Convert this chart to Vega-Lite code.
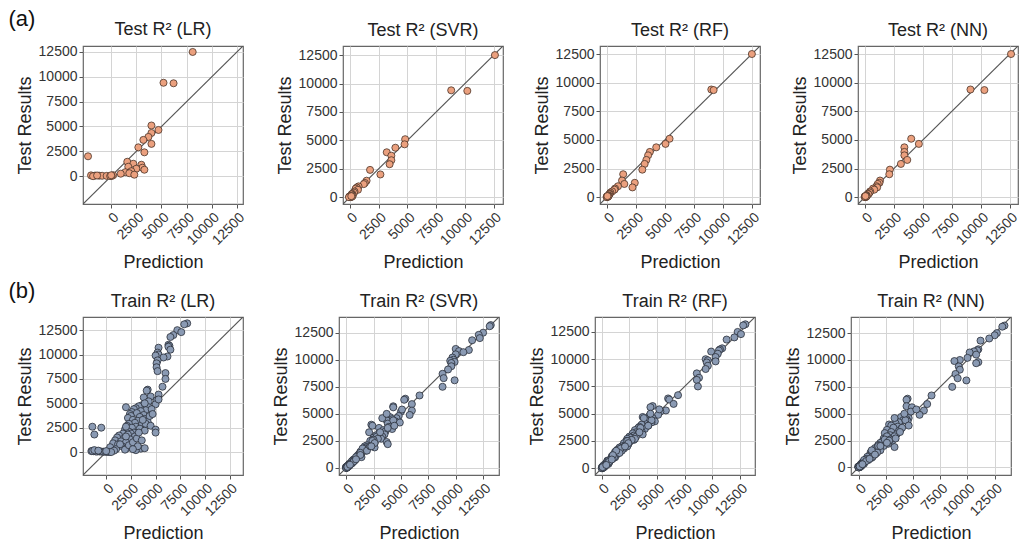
{
"$schema": "https://vega.github.io/schema/vega-lite/v6.json",
"padding": {"left": 8, "top": 8, "right": 2, "bottom": 2},
"background": "white",
"datasets": {
"diag": [{"d": -5000}, {"d": 16000}],
"test": [
{"actual":12500,"LR":8100,"SVR":12600,"RF":12500,"NN":12600},
{"actual":9400,"LR":5200,"SVR":8800,"RF":9000,"NN":9100},
{"actual":9350,"LR":6200,"SVR":10200,"RF":9200,"NN":10300},
{"actual":5100,"LR":4000,"SVR":4800,"RF":5400,"NN":3990},
{"actual":4650,"LR":4700,"SVR":4750,"RF":5050,"NN":4650},
{"actual":4350,"LR":4000,"SVR":3950,"RF":4250,"NN":3400},
{"actual":3950,"LR":3700,"SVR":3200,"RF":3700,"NN":3400},
{"actual":3650,"LR":3200,"SVR":3600,"RF":3550,"NN":3400},
{"actual":3250,"LR":4000,"SVR":3600,"RF":3400,"NN":3650},
{"actual":2900,"LR":2700,"SVR":3450,"RF":3250,"NN":3100},
{"actual":2400,"LR":3300,"SVR":1750,"RF":3050,"NN":2150},
{"actual":2000,"LR":-2300,"SVR":2650,"RF":1400,"NN":2100},
{"actual":1450,"LR":1600,"SVR":1450,"RF":1300,"NN":1300},
{"actual":1250,"LR":2200,"SVR":1300,"RF":2400,"NN":1250},
{"actual":1150,"LR":3000,"SVR":1200,"RF":1500,"NN":1100},
{"actual":950,"LR":1700,"SVR":750,"RF":950,"NN":1000},
{"actual":850,"LR":3100,"SVR":600,"RF":2200,"NN":1050},
{"actual":750,"LR":2500,"SVR":500,"RF":700,"NN":700},
{"actual":650,"LR":3300,"SVR":700,"RF":650,"NN":800},
{"actual":500,"LR":2000,"SVR":400,"RF":450,"NN":450},
{"actual":400,"LR":1400,"SVR":350,"RF":300,"NN":400},
{"actual":300,"LR":1800,"SVR":200,"RF":250,"NN":250},
{"actual":250,"LR":950,"SVR":150,"RF":200,"NN":300},
{"actual":150,"LR":2300,"SVR":250,"RF":150,"NN":150},
{"actual":100,"LR":200,"SVR":100,"RF":100,"NN":100},
{"actual":80,"LR":-2000,"SVR":0,"RF":50,"NN":0},
{"actual":60,"LR":-1600,"SVR":50,"RF":0,"NN":50},
{"actual":50,"LR":-1200,"SVR":-50,"RF":80,"NN":120},
{"actual":40,"LR":-900,"SVR":100,"RF":30,"NN":80},
{"actual":30,"LR":-450,"SVR":150,"RF":60,"NN":20},
{"actual":20,"LR":50,"SVR":0,"RF":10,"NN":-30},
{"actual":10,"LR":-100,"SVR":50,"RF":-30,"NN":60},
{"actual":0,"LR":-1800,"SVR":-80,"RF":0,"NN":10},
{"actual":70,"LR":-1400,"SVR":200,"RF":120,"NN":130},
{"actual":90,"LR":0,"SVR":120,"RF":40,"NN":40}
],
"train": [
{"actual":13200,"LR":8200,"SVR":13200,"RF":13000,"NN":13400},
{"actual":13100,"LR":7900,"SVR":13100,"RF":12800,"NN":13200},
{"actual":12500,"LR":7200,"SVR":12500,"RF":12300,"NN":12700},
{"actual":12300,"LR":7600,"SVR":12100,"RF":12600,"NN":12500},
{"actual":12000,"LR":6800,"SVR":12200,"RF":12000,"NN":12000},
{"actual":11800,"LR":6500,"SVR":11500,"RF":11300,"NN":11200},
{"actual":11000,"LR":6300,"SVR":10000,"RF":10900,"NN":11000},
{"actual":10900,"LR":6400,"SVR":11200,"RF":10700,"NN":10900},
{"actual":10800,"LR":6300,"SVR":10300,"RF":10600,"NN":10600},
{"actual":10700,"LR":5300,"SVR":10700,"RF":9900,"NN":10200},
{"actual":10500,"LR":6500,"SVR":10000,"RF":10500,"NN":10800},
{"actual":10200,"LR":5200,"SVR":9700,"RF":10300,"NN":10000},
{"actual":10000,"LR":5300,"SVR":9800,"RF":9400,"NN":9300},
{"actual":9900,"LR":5000,"SVR":9500,"RF":9600,"NN":8800},
{"actual":9800,"LR":6200,"SVR":9900,"RF":10300,"NN":11000},
{"actual":9700,"LR":5800,"SVR":9600,"RF":9500,"NN":10800},
{"actual":9400,"LR":5200,"SVR":9600,"RF":9600,"NN":9200},
{"actual":9100,"LR":5100,"SVR":9300,"RF":9400,"NN":9300},
{"actual":8700,"LR":5100,"SVR":8800,"RF":8600,"NN":8900},
{"actual":8300,"LR":5200,"SVR":8900,"RF":8800,"NN":9100},
{"actual":8100,"LR":6000,"SVR":9900,"RF":8600,"NN":9900},
{"actual":7500,"LR":6000,"SVR":8800,"RF":8700,"NN":8600},
{"actual":6700,"LR":5700,"SVR":6700,"RF":6900,"NN":6700},
{"actual":6400,"LR":4200,"SVR":5400,"RF":6000,"NN":4500},
{"actual":6300,"LR":4100,"SVR":5300,"RF":6100,"NN":4400},
{"actual":5900,"LR":5300,"SVR":6000,"RF":6500,"NN":6300},
{"actual":5700,"LR":4500,"SVR":4300,"RF":4600,"NN":4400},
{"actual":5600,"LR":3800,"SVR":4300,"RF":4400,"NN":4900},
{"actual":5300,"LR":5100,"SVR":6000,"RF":5800,"NN":6000},
{"actual":5200,"LR":4300,"SVR":5000,"RF":5300,"NN":4800},
{"actual":4900,"LR":5000,"SVR":5800,"RF":5100,"NN":5600},
{"actual":4800,"LR":3600,"SVR":4800,"RF":4300,"NN":4200},
{"actual":4700,"LR":3300,"SVR":4000,"RF":3700,"NN":3900},
{"actual":4600,"LR":4300,"SVR":4600,"RF":4600,"NN":4600},
{"actual":4500,"LR":3000,"SVR":4200,"RF":4200,"NN":4400},
{"actual":4400,"LR":2800,"SVR":3700,"RF":4000,"NN":4100},
{"actual":4300,"LR":4000,"SVR":4500,"RF":4800,"NN":4500},
{"actual":4200,"LR":3500,"SVR":4900,"RF":4500,"NN":3700},
{"actual":4100,"LR":2600,"SVR":3800,"RF":3900,"NN":3400},
{"actual":4000,"LR":3100,"SVR":2300,"RF":3600,"NN":2800},
{"actual":3900,"LR":2400,"SVR":2400,"RF":4200,"NN":3000},
{"actual":3800,"LR":3800,"SVR":3900,"RF":3400,"NN":3600},
{"actual":3700,"LR":2500,"SVR":3000,"RF":3300,"NN":3200},
{"actual":3600,"LR":3400,"SVR":4200,"RF":3900,"NN":3900},
{"actual":3500,"LR":2200,"SVR":3400,"RF":3000,"NN":2600},
{"actual":3400,"LR":3900,"SVR":3600,"RF":3600,"NN":3700},
{"actual":3300,"LR":2700,"SVR":2100,"RF":3100,"NN":3000},
{"actual":3200,"LR":3200,"SVR":3000,"RF":2800,"NN":2400},
{"actual":3100,"LR":4200,"SVR":3500,"RF":3700,"NN":3500},
{"actual":3000,"LR":2900,"SVR":2700,"RF":2900,"NN":2900},
{"actual":2900,"LR":2300,"SVR":3300,"RF":2500,"NN":3300},
{"actual":2800,"LR":3600,"SVR":2500,"RF":2600,"NN":2700},
{"actual":2700,"LR":2100,"SVR":3200,"RF":2300,"NN":2300},
{"actual":2600,"LR":3000,"SVR":2400,"RF":2700,"NN":2500},
{"actual":2500,"LR":2600,"SVR":2200,"RF":2200,"NN":3100},
{"actual":2400,"LR":3400,"SVR":3700,"RF":2500,"NN":2200},
{"actual":2300,"LR":1900,"SVR":2600,"RF":2000,"NN":2000},
{"actual":2200,"LR":3900,"SVR":3800,"RF":2400,"NN":2700},
{"actual":2100,"LR":2300,"SVR":1900,"RF":2100,"NN":1800},
{"actual":2000,"LR":2800,"SVR":1700,"RF":1800,"NN":2300},
{"actual":4600,"LR":2000,"SVR":3300,"RF":3800,"NN":3300},
{"actual":3700,"LR":4400,"SVR":3800,"RF":3500,"NN":4000},
{"actual":2900,"LR":4000,"SVR":2800,"RF":3100,"NN":2600},
{"actual":4400,"LR":4600,"SVR":4300,"RF":4500,"NN":4300},
{"actual":3300,"LR":3700,"SVR":3100,"RF":3400,"NN":3800},
{"actual":3900,"LR":4700,"SVR":4400,"RF":4200,"NN":4600},
{"actual":2600,"LR":2000,"SVR":2500,"RF":2900,"NN":2900},
{"actual":5000,"LR":3900,"SVR":3700,"RF":4400,"NN":4200},
{"actual":1900,"LR":2500,"SVR":2600,"RF":1900,"NN":3300},
{"actual":2700,"LR":4500,"SVR":2900,"RF":3000,"NN":3400},
{"actual":1900,"LR":1700,"SVR":1800,"RF":1600,"NN":1700},
{"actual":1800,"LR":2200,"SVR":1700,"RF":2000,"NN":1500},
{"actual":1700,"LR":1300,"SVR":1500,"RF":1400,"NN":1900},
{"actual":1600,"LR":2900,"SVR":1800,"RF":1800,"NN":2000},
{"actual":1500,"LR":1100,"SVR":1300,"RF":1200,"NN":1300},
{"actual":1400,"LR":1800,"SVR":1400,"RF":1500,"NN":1100},
{"actual":1300,"LR":2400,"SVR":1200,"RF":1100,"NN":1600},
{"actual":1200,"LR":900,"SVR":1100,"RF":1300,"NN":1400},
{"actual":1100,"LR":1500,"SVR":1000,"RF":900,"NN":1000},
{"actual":1000,"LR":2000,"SVR":1400,"RF":1200,"NN":800},
{"actual":900,"LR":700,"SVR":900,"RF":1000,"NN":1200},
{"actual":800,"LR":1200,"SVR":700,"RF":800,"NN":700},
{"actual":700,"LR":2600,"SVR":600,"RF":500,"NN":900},
{"actual":600,"LR":1600,"SVR":500,"RF":700,"NN":600},
{"actual":500,"LR":400,"SVR":600,"RF":400,"NN":400},
{"actual":400,"LR":2100,"SVR":300,"RF":600,"NN":300},
{"actual":350,"LR":3500,"SVR":400,"RF":300,"NN":500},
{"actual":300,"LR":1000,"SVR":250,"RF":200,"NN":200},
{"actual":250,"LR":1900,"SVR":200,"RF":350,"NN":250},
{"actual":200,"LR":3000,"SVR":150,"RF":100,"NN":300},
{"actual":150,"LR":800,"SVR":100,"RF":250,"NN":100},
{"actual":100,"LR":-1500,"SVR":50,"RF":100,"NN":50},
{"actual":90,"LR":-1300,"SVR":0,"RF":50,"NN":150},
{"actual":80,"LR":-1100,"SVR":100,"RF":0,"NN":0},
{"actual":70,"LR":-900,"SVR":30,"RF":150,"NN":-50},
{"actual":60,"LR":-700,"SVR":-20,"RF":80,"NN":80},
{"actual":50,"LR":-500,"SVR":80,"RF":30,"NN":20},
{"actual":40,"LR":-300,"SVR":10,"RF":60,"NN":120},
{"actual":30,"LR":-100,"SVR":60,"RF":20,"NN":30},
{"actual":20,"LR":100,"SVR":20,"RF":10,"NN":60},
{"actual":10,"LR":300,"SVR":40,"RF":40,"NN":10},
{"actual":0,"LR":500,"SVR":0,"RF":0,"NN":0},
{"actual":120,"LR":-1400,"SVR":150,"RF":200,"NN":200},
{"actual":60,"LR":-1000,"SVR":90,"RF":120,"NN":90},
{"actual":2600,"LR":-1400,"SVR":2500,"RF":2700,"NN":2400},
{"actual":1800,"LR":-1200,"SVR":1500,"RF":1700,"NN":1700},
{"actual":2500,"LR":-500,"SVR":2400,"RF":2300,"NN":2800},
{"actual":200,"LR":-1200,"SVR":300,"RF":250,"NN":150},
{"actual":150,"LR":-800,"SVR":200,"RF":180,"NN":250},
{"actual":100,"LR":0,"SVR":120,"RF":70,"NN":100},
{"actual":700,"LR":2300,"SVR":800,"RF":600,"NN":500},
{"actual":1000,"LR":2700,"SVR":900,"RF":1100,"NN":1300},
{"actual":1400,"LR":3100,"SVR":1300,"RF":1600,"NN":1700},
{"actual":1600,"LR":2000,"SVR":1900,"RF":1300,"NN":1200},
{"actual":2000,"LR":3300,"SVR":2200,"RF":2300,"NN":1800},
{"actual":400,"LR":3900,"SVR":500,"RF":500,"NN":450},
{"actual":600,"LR":3200,"SVR":700,"RF":650,"NN":700},
{"actual":300,"LR":2700,"SVR":350,"RF":400,"NN":350},
{"actual":1200,"LR":3600,"SVR":1300,"RF":1000,"NN":1500},
{"actual":800,"LR":1400,"SVR":900,"RF":900,"NN":1000},
{"actual":2300,"LR":5000,"SVR":2600,"RF":2400,"NN":2600},
{"actual":2000,"LR":5000,"SVR":2300,"RF":2100,"NN":2000},
{"actual":5400,"LR":5300,"SVR":5100,"RF":5200,"NN":5300}
]
},
"vconcat": [
{
"title": {"text": "(a)", "anchor": "start", "frame": "bounds", "fontSize": 22, "offset": -11, "dx": -7, "color": "#111"},
"spacing": 27,
"hconcat": [
{"title": "Test R² (LR)", "width": 160, "height": 158, "layer": [
{"data": {"name": "diag"}, "mark": {"type": "line", "color": "#555", "strokeWidth": 1.2, "clip": true}, "encoding": {"x": {"field": "d", "type": "quantitative", "scale": {"domain": [-2800, 13100], "nice": false, "zero": false}, "axis": {"values": [0,2500,5000,7500,10000,12500]}, "title": "Prediction"}, "y": {"field": "d", "type": "quantitative", "scale": {"domain": [-2800, 13100], "nice": false, "zero": false}, "axis": {"values": [0,2500,5000,7500,10000,12500]}, "title": "Test Results"}}},
{"data": {"name": "test"}, "mark": {"type": "circle", "fill": "#EBA07E", "stroke": "#4a3328", "strokeWidth": 0.8, "size": 50, "opacity": 1}, "encoding": {"x": {"field": "LR", "type": "quantitative", "scale": {"domain": [-2800, 13100], "nice": false, "zero": false}, "axis": {"values": [0,2500,5000,7500,10000,12500]}, "title": "Prediction"}, "y": {"field": "actual", "type": "quantitative", "scale": {"domain": [-2800, 13100], "nice": false, "zero": false}, "axis": {"values": [0,2500,5000,7500,10000,12500]}, "title": "Test Results"}}}
]},
{"title": "Test R² (SVR)", "width": 160, "height": 158, "layer": [
{"data": {"name": "diag"}, "mark": {"type": "line", "color": "#555", "strokeWidth": 1.2, "clip": true}, "encoding": {"x": {"field": "d", "type": "quantitative", "scale": {"domain": [-600, 13300], "nice": false, "zero": false}, "axis": {"values": [0,2500,5000,7500,10000,12500]}, "title": "Prediction"}, "y": {"field": "d", "type": "quantitative", "scale": {"domain": [-600, 13300], "nice": false, "zero": false}, "axis": {"values": [0,2500,5000,7500,10000,12500]}, "title": "Test Results"}}},
{"data": {"name": "test"}, "mark": {"type": "circle", "fill": "#EBA07E", "stroke": "#4a3328", "strokeWidth": 0.8, "size": 50, "opacity": 1}, "encoding": {"x": {"field": "SVR", "type": "quantitative", "scale": {"domain": [-600, 13300], "nice": false, "zero": false}, "axis": {"values": [0,2500,5000,7500,10000,12500]}, "title": "Prediction"}, "y": {"field": "actual", "type": "quantitative", "scale": {"domain": [-600, 13300], "nice": false, "zero": false}, "axis": {"values": [0,2500,5000,7500,10000,12500]}, "title": "Test Results"}}}
]},
{"title": "Test R² (RF)", "width": 160, "height": 158, "layer": [
{"data": {"name": "diag"}, "mark": {"type": "line", "color": "#555", "strokeWidth": 1.2, "clip": true}, "encoding": {"x": {"field": "d", "type": "quantitative", "scale": {"domain": [-600, 13200], "nice": false, "zero": false}, "axis": {"values": [0,2500,5000,7500,10000,12500]}, "title": "Prediction"}, "y": {"field": "d", "type": "quantitative", "scale": {"domain": [-600, 13200], "nice": false, "zero": false}, "axis": {"values": [0,2500,5000,7500,10000,12500]}, "title": "Test Results"}}},
{"data": {"name": "test"}, "mark": {"type": "circle", "fill": "#EBA07E", "stroke": "#4a3328", "strokeWidth": 0.8, "size": 50, "opacity": 1}, "encoding": {"x": {"field": "RF", "type": "quantitative", "scale": {"domain": [-600, 13200], "nice": false, "zero": false}, "axis": {"values": [0,2500,5000,7500,10000,12500]}, "title": "Prediction"}, "y": {"field": "actual", "type": "quantitative", "scale": {"domain": [-600, 13200], "nice": false, "zero": false}, "axis": {"values": [0,2500,5000,7500,10000,12500]}, "title": "Test Results"}}}
]},
{"title": "Test R² (NN)", "width": 160, "height": 158, "layer": [
{"data": {"name": "diag"}, "mark": {"type": "line", "color": "#555", "strokeWidth": 1.2, "clip": true}, "encoding": {"x": {"field": "d", "type": "quantitative", "scale": {"domain": [-600, 13200], "nice": false, "zero": false}, "axis": {"values": [0,2500,5000,7500,10000,12500]}, "title": "Prediction"}, "y": {"field": "d", "type": "quantitative", "scale": {"domain": [-600, 13200], "nice": false, "zero": false}, "axis": {"values": [0,2500,5000,7500,10000,12500]}, "title": "Test Results"}}},
{"data": {"name": "test"}, "mark": {"type": "circle", "fill": "#EBA07E", "stroke": "#4a3328", "strokeWidth": 0.8, "size": 50, "opacity": 1}, "encoding": {"x": {"field": "NN", "type": "quantitative", "scale": {"domain": [-600, 13200], "nice": false, "zero": false}, "axis": {"values": [0,2500,5000,7500,10000,12500]}, "title": "Prediction"}, "y": {"field": "actual", "type": "quantitative", "scale": {"domain": [-600, 13200], "nice": false, "zero": false}, "axis": {"values": [0,2500,5000,7500,10000,12500]}, "title": "Test Results"}}}
]}
]
},
{
"title": {"text": "(b)", "anchor": "start", "frame": "bounds", "fontSize": 22, "offset": -11, "dx": -7, "color": "#111"},
"spacing": 27,
"hconcat": [
{"title": "Train R² (LR)", "width": 160, "height": 158, "layer": [
{"data": {"name": "diag"}, "mark": {"type": "line", "color": "#555", "strokeWidth": 1.2, "clip": true}, "encoding": {"x": {"field": "d", "type": "quantitative", "scale": {"domain": [-2350, 13850], "nice": false, "zero": false}, "axis": {"values": [0,2500,5000,7500,10000,12500]}, "title": "Prediction"}, "y": {"field": "d", "type": "quantitative", "scale": {"domain": [-2350, 13850], "nice": false, "zero": false}, "axis": {"values": [0,2500,5000,7500,10000,12500]}, "title": "Test Results"}}},
{"data": {"name": "train"}, "mark": {"type": "circle", "fill": "#8A9AB3", "stroke": "#2a2f38", "strokeWidth": 0.8, "size": 50, "opacity": 1}, "encoding": {"x": {"field": "LR", "type": "quantitative", "scale": {"domain": [-2350, 13850], "nice": false, "zero": false}, "axis": {"values": [0,2500,5000,7500,10000,12500]}, "title": "Prediction"}, "y": {"field": "actual", "type": "quantitative", "scale": {"domain": [-2350, 13850], "nice": false, "zero": false}, "axis": {"values": [0,2500,5000,7500,10000,12500]}, "title": "Test Results"}}}
]},
{"title": "Train R² (SVR)", "width": 160, "height": 158, "layer": [
{"data": {"name": "diag"}, "mark": {"type": "line", "color": "#555", "strokeWidth": 1.2, "clip": true}, "encoding": {"x": {"field": "d", "type": "quantitative", "scale": {"domain": [-650, 13950], "nice": false, "zero": false}, "axis": {"values": [0,2500,5000,7500,10000,12500]}, "title": "Prediction"}, "y": {"field": "d", "type": "quantitative", "scale": {"domain": [-650, 13950], "nice": false, "zero": false}, "axis": {"values": [0,2500,5000,7500,10000,12500]}, "title": "Test Results"}}},
{"data": {"name": "train"}, "mark": {"type": "circle", "fill": "#8A9AB3", "stroke": "#2a2f38", "strokeWidth": 0.8, "size": 50, "opacity": 1}, "encoding": {"x": {"field": "SVR", "type": "quantitative", "scale": {"domain": [-650, 13950], "nice": false, "zero": false}, "axis": {"values": [0,2500,5000,7500,10000,12500]}, "title": "Prediction"}, "y": {"field": "actual", "type": "quantitative", "scale": {"domain": [-650, 13950], "nice": false, "zero": false}, "axis": {"values": [0,2500,5000,7500,10000,12500]}, "title": "Test Results"}}}
]},
{"title": "Train R² (RF)", "width": 160, "height": 158, "layer": [
{"data": {"name": "diag"}, "mark": {"type": "line", "color": "#555", "strokeWidth": 1.2, "clip": true}, "encoding": {"x": {"field": "d", "type": "quantitative", "scale": {"domain": [-620, 13870], "nice": false, "zero": false}, "axis": {"values": [0,2500,5000,7500,10000,12500]}, "title": "Prediction"}, "y": {"field": "d", "type": "quantitative", "scale": {"domain": [-620, 13870], "nice": false, "zero": false}, "axis": {"values": [0,2500,5000,7500,10000,12500]}, "title": "Test Results"}}},
{"data": {"name": "train"}, "mark": {"type": "circle", "fill": "#8A9AB3", "stroke": "#2a2f38", "strokeWidth": 0.8, "size": 50, "opacity": 1}, "encoding": {"x": {"field": "RF", "type": "quantitative", "scale": {"domain": [-620, 13870], "nice": false, "zero": false}, "axis": {"values": [0,2500,5000,7500,10000,12500]}, "title": "Prediction"}, "y": {"field": "actual", "type": "quantitative", "scale": {"domain": [-620, 13870], "nice": false, "zero": false}, "axis": {"values": [0,2500,5000,7500,10000,12500]}, "title": "Test Results"}}}
]},
{"title": "Train R² (NN)", "width": 160, "height": 158, "layer": [
{"data": {"name": "diag"}, "mark": {"type": "line", "color": "#555", "strokeWidth": 1.2, "clip": true}, "encoding": {"x": {"field": "d", "type": "quantitative", "scale": {"domain": [-700, 14000], "nice": false, "zero": false}, "axis": {"values": [0,2500,5000,7500,10000,12500]}, "title": "Prediction"}, "y": {"field": "d", "type": "quantitative", "scale": {"domain": [-700, 14000], "nice": false, "zero": false}, "axis": {"values": [0,2500,5000,7500,10000,12500]}, "title": "Test Results"}}},
{"data": {"name": "train"}, "mark": {"type": "circle", "fill": "#8A9AB3", "stroke": "#2a2f38", "strokeWidth": 0.8, "size": 50, "opacity": 1}, "encoding": {"x": {"field": "NN", "type": "quantitative", "scale": {"domain": [-700, 14000], "nice": false, "zero": false}, "axis": {"values": [0,2500,5000,7500,10000,12500]}, "title": "Prediction"}, "y": {"field": "actual", "type": "quantitative", "scale": {"domain": [-700, 14000], "nice": false, "zero": false}, "axis": {"values": [0,2500,5000,7500,10000,12500]}, "title": "Test Results"}}}
]}
]
}
],
"spacing": 7,
"config": {
"font": "Liberation Sans",
"view": {"stroke": "#666", "strokeWidth": 1.2},
"axis": {"labelFont": "Liberation Sans", "labelFontSize": 14, "labelColor": "#333", "titleFont": "Liberation Sans", "titleFontSize": 18, "titleFontWeight": "normal", "titleColor": "#222", "gridColor": "#d4d4d4", "gridWidth": 1, "tickColor": "#555", "tickSize": 4, "domain": false, "labelPadding": 2, "format": "d", "labelOverlap": false, "labelFlush": false},
"axisX": {"labelAngle": -45, "titlePadding": 6},
"axisY": {"titlePadding": 4},
"title": {"font": "Liberation Sans", "fontSize": 18, "fontWeight": "normal", "color": "#222", "offset": 6}
}
}
